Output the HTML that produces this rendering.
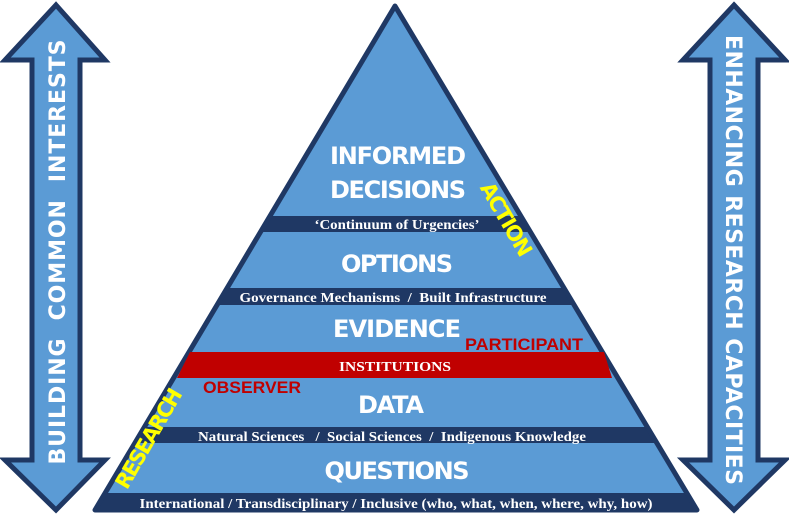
<!DOCTYPE html>
<html><head><meta charset="utf-8"><style>
html,body{margin:0;padding:0;background:#fff;}
svg{display:block;}
text{font-family:"DejaVu Sans","Liberation Sans",sans-serif;white-space:pre;}
.s{font-family:"Liberation Serif",serif;font-weight:bold;fill:#fff;font-size:14px;}
.b{font-weight:bold;fill:#fff;font-size:24px;}
.r{font-family:"Liberation Sans",sans-serif;font-size:17px;font-weight:bold;fill:#c00000;}
</style></head><body>
<svg width="789" height="516" viewBox="0 0 789 516" xml:space="preserve">
<defs>
<clipPath id="tri"><polygon points="395,6 95,510 697,510"/></clipPath>
</defs>
<polygon points="56,5 105,60 80,60 80,460 105,460 56,510 5,460 32,460 32,60 5,60" fill="#5b9bd5" stroke="#1f3864" stroke-width="5"/>
<text transform="translate(65,252) rotate(-90)" text-anchor="middle" font-size="22" font-weight="bold" fill="#fff" textLength="425" lengthAdjust="spacing">BUILDING  COMMON  INTERESTS</text>
<polygon points="734,5 785,60 758,60 758,460 785,460 734,510 683,460 710,460 710,60 683,60" fill="#5b9bd5" stroke="#1f3864" stroke-width="5"/>
<text transform="translate(726,260) rotate(90)" text-anchor="middle" font-size="22" font-weight="bold" fill="#fff" textLength="450" lengthAdjust="spacing">ENHANCING RESEARCH CAPACITIES</text>
<g clip-path="url(#tri)">
<rect x="0" y="0" width="789" height="516" fill="#5b9bd5"/>
<rect x="0" y="216" width="789" height="16" fill="#1f3864"/>
<rect x="0" y="288" width="789" height="17" fill="#1f3864"/>
<rect x="0" y="427" width="789" height="16" fill="#1f3864"/>
<rect x="0" y="493" width="789" height="23" fill="#1f3864"/>
</g>
<polygon points="395,6 95,510 697,510" fill="none" stroke="#1f3864" stroke-width="5" stroke-linejoin="round"/>
<polygon points="190,352 604,352 612,378 177,378" fill="#c00000"/>
<text class="b" x="398" y="164" text-anchor="middle" textLength="136">INFORMED</text>
<text class="b" x="398" y="198" text-anchor="middle" textLength="136">DECISIONS</text>
<text class="s" x="397" y="229" text-anchor="middle" textLength="165" lengthAdjust="spacingAndGlyphs">‘Continuum of Urgencies’</text>
<text class="b" x="397" y="272" text-anchor="middle" textLength="112">OPTIONS</text>
<text class="s" x="393" y="302" text-anchor="middle" textLength="307" lengthAdjust="spacingAndGlyphs">Governance Mechanisms  /  Built Infrastructure</text>
<text class="b" x="397" y="337" text-anchor="middle" textLength="128">EVIDENCE</text>
<text class="r" x="524" y="350" text-anchor="middle" textLength="118" lengthAdjust="spacingAndGlyphs">PARTICIPANT</text>
<text class="s" x="395" y="371" text-anchor="middle" textLength="112" lengthAdjust="spacingAndGlyphs">INSTITUTIONS</text>
<text class="r" x="252" y="393" text-anchor="middle" textLength="98" lengthAdjust="spacingAndGlyphs">OBSERVER</text>
<text class="b" x="391" y="413" text-anchor="middle" textLength="66">DATA</text>
<text class="s" x="392" y="441" text-anchor="middle" textLength="388" lengthAdjust="spacingAndGlyphs">Natural Sciences   /  Social Sciences  /  Indigenous Knowledge</text>
<text class="b" x="397" y="479" text-anchor="middle" textLength="145">QUESTIONS</text>
<text class="s" x="396" y="508" text-anchor="middle" textLength="513" lengthAdjust="spacingAndGlyphs">International / Transdisciplinary / Inclusive (who, what, when, where, why, how)</text>
<text transform="translate(155,442) rotate(-60)" text-anchor="middle" font-size="21" font-weight="bold" fill="#ffff00" textLength="112">RESEARCH</text>
<text transform="translate(500,223) rotate(60)" text-anchor="middle" font-size="21" font-weight="bold" fill="#ffff00" textLength="82">ACTION</text>
</svg>
</body></html>
